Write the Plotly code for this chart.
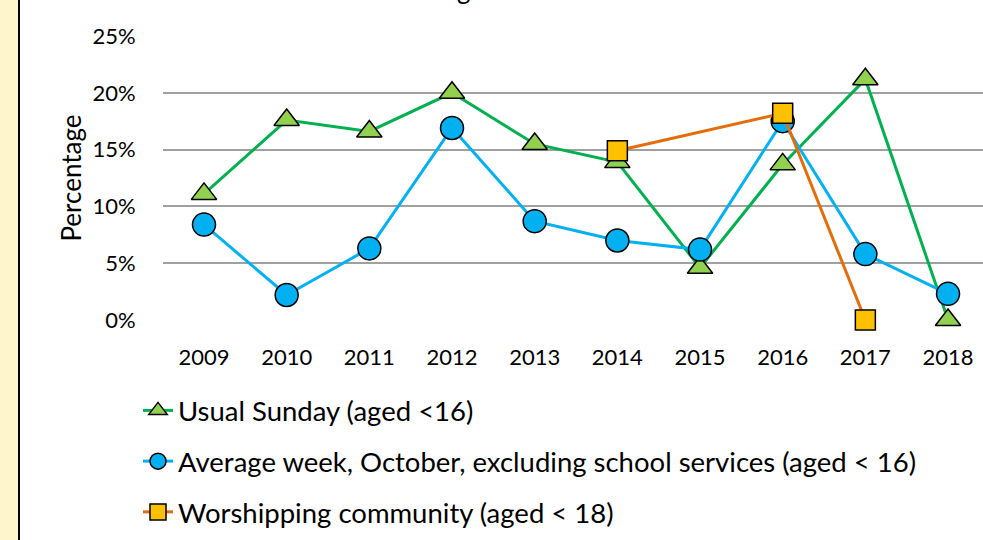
import plotly.graph_objects as go

years = [2009, 2010, 2011, 2012, 2013, 2014, 2015, 2016, 2017, 2018]
usual_sunday = [11.1, 17.6, 16.6, 20.0, 15.5, 13.9, 4.6, 13.7, 21.2, 0.0]
average_week = [8.4, 2.2, 6.3, 16.9, 8.7, 7.0, 6.2, 17.5, 5.8, 2.3]
worship_years = [2014, 2016, 2017]
worship_comm = [14.9, 18.2, 0.0]
y_ticks = [0, 5, 10, 15, 20, 25]
y_tick_text = [f"{v}%" for v in y_ticks]

FONT = "Lato"
L, T = 163, 36
PW, PH = 820, 284

def px2paper_x(px):
    return (px - L) / PW

def px2paper_y(py):
    return (T + PH - py) / PH

fig = go.Figure()

fig.add_trace(go.Scatter(
    x=years, y=usual_sunday, mode="lines+markers", name="Usual Sunday (aged <16)",
    line=dict(color="#00B050", width=3),
    marker=dict(symbol="triangle-up", size=22, color="#92D050", line=dict(color="black", width=1.5)),
    legendgroup="a", cliponaxis=False,
))
fig.add_trace(go.Scatter(
    x=years, y=average_week, mode="lines+markers",
    name="Average week, October, excluding school services (aged < 16)",
    line=dict(color="#00B0F0", width=3),
    marker=dict(symbol="circle", size=23, color="#00B0F0", line=dict(color="black", width=1.5)),
    legendgroup="b", cliponaxis=False,
))
fig.add_trace(go.Scatter(
    x=worship_years, y=worship_comm, mode="lines+markers", name="Worshipping community (aged < 18)",
    line=dict(color="#E46C0A", width=3),
    marker=dict(symbol="square", size=20, color="#FFC000", line=dict(color="black", width=1.5)),
    legendgroup="c", cliponaxis=False,
))

shapes = [
    dict(type="rect", xref="paper", yref="paper",
         x0=px2paper_x(-2), x1=px2paper_x(18), y0=px2paper_y(545), y1=px2paper_y(-5),
         fillcolor="#FFF5CC", line=dict(width=0), layer="below"),
    dict(type="line", xref="paper", yref="paper",
         x0=px2paper_x(19), x1=px2paper_x(19), y0=px2paper_y(545), y1=px2paper_y(-5),
         line=dict(color="black", width=2)),
]

fig.update_layout(
    width=983, height=540,
    margin=dict(l=L, r=983 - L - PW, t=T, b=540 - T - PH),
    paper_bgcolor="white", plot_bgcolor="white",
    font=dict(family=FONT, color="black", size=22),
    showlegend=True,
    legend=dict(
        x=px2paper_x(138), y=px2paper_y(386), xanchor="left", yanchor="top",
        orientation="v", font=dict(size=27.5, family=FONT), tracegroupgap=12,
        bgcolor="rgba(0,0,0,0)",
    ),
    xaxis=dict(
        range=[2008.504, 2018.423], tickvals=years, ticktext=[str(y) for y in years],
        showgrid=False, zeroline=False, showline=False,
        ticks="outside", ticklen=18, tickcolor="rgba(0,0,0,0)",
        tickfont=dict(size=22, family=FONT),
    ),
    yaxis=dict(
        range=[0, 25], tickvals=y_ticks, ticktext=y_tick_text,
        showgrid=True, gridcolor="#A0A0A0", gridwidth=2, zeroline=False, showline=False,
        ticks="outside", ticklen=22, tickcolor="rgba(0,0,0,0)",
        tickfont=dict(size=22, family=FONT),
        title=dict(text="Percentage", font=dict(size=26, family=FONT), standoff=3),
    ),
    shapes=shapes,
    annotations=[dict(
        text="Percentage", xref="paper", yref="paper",
        x=px2paper_x(420), y=px2paper_y(7), xanchor="center", yanchor="bottom",
        showarrow=False, font=dict(size=26, family=FONT),
    )],
)

fig.write_html(
    "out.html",
    config={"displayModeBar": False},
    post_script="document.body.style.margin='0';document.body.style.overflow='hidden';",
)
